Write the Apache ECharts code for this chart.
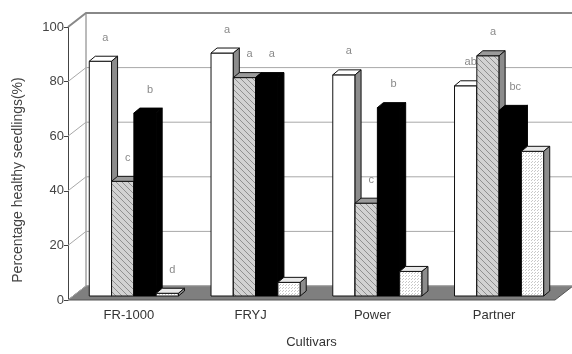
<!DOCTYPE html>
<html>
<head>
<meta charset="utf-8">
<script src="https://cdn.jsdelivr.net/npm/echarts@6/dist/echarts.min.js"></script>
<style>html,body{margin:0;padding:0;background:#fff}#c{width:572px;height:354px}</style>
</head>
<body>
<div id="c"></div>
<script>
const categories = ['FR-1000', 'FRYJ', 'Power', 'Partner'];
const whiteVals = [86, 89, 81, 77];
const grayVals = [42, 80, 34, 88];
const blackVals = [67, 80, 69, 68];
const dotVals = [1, 5, 9, 53];
const whiteLetters = ['a', 'a', 'a', 'ab'];
const grayLetters = ['c', 'a', 'c', 'a'];
const blackLetters = ['b', 'a', 'b', 'bc'];
const dotLetters = ['d', '', '', ''];
const yTicks = [0, 20, 40, 60, 80, 100];

const FONT = '"Liberation Sans", Arial, sans-serif';
const WX = 18, WY = -14;   // wall depth
const PX = 5, PY = -4;     // bar plane offset
const DX = 6, DY = -5;     // bar depth
const BW = 22.3, GW = BW * 4;

function hatchPattern() {
  const c = document.createElement('canvas'); c.width = 6; c.height = 6;
  const g = c.getContext('2d');
  g.fillStyle = '#d2d2d2'; g.fillRect(0, 0, 6, 6);
  g.strokeStyle = '#909090'; g.lineWidth = 1;
  g.beginPath();
  for (let s = -6; s <= 6; s += 6) { g.moveTo(s, 0); g.lineTo(s + 6, 6); }
  g.stroke();
  return { image: c, repeat: 'repeat' };
}
function dotPattern() {
  const c = document.createElement('canvas'); c.width = 3; c.height = 3;
  const g = c.getContext('2d');
  g.fillStyle = '#ffffff'; g.fillRect(0, 0, 3, 3);
  g.fillStyle = '#c8c8c8'; g.fillRect(0, 0, 1, 1); g.fillRect(1, 2, 1, 1);
  return { image: c, repeat: 'repeat' };
}

function makeBar(k, front, top, side, stroke, letters) {
  return function (params, api) {
    const cat = api.value(0), v = api.value(1);
    const p = api.coord([cat, v]);
    const p0 = api.coord([cat, 0]);
    const x = p[0] - GW / 2 + k * BW + PX;
    const yt = p[1] + PY, yb = p0[1] + PY;
    const children = [
      { type: 'rect', shape: { x: x, y: yt, width: BW, height: Math.max(yb - yt, 0.5) },
        style: { fill: front, stroke: stroke, lineWidth: 1 } },
      { type: 'polygon', shape: { points: [[x, yt], [x + DX, yt + DY], [x + BW + DX, yt + DY], [x + BW, yt]] },
        style: { fill: top, stroke: stroke, lineWidth: 1 } },
      { type: 'polygon', shape: { points: [[x + BW, yt], [x + BW + DX, yt + DY], [x + BW + DX, yb + DY], [x + BW, yb]] },
        style: { fill: side, stroke: stroke, lineWidth: 1 } }
    ];
    const t = letters[cat];
    if (t) {
      children.push({ type: 'text', style: { text: t, x: x + BW / 2 + 5, y: yt + DY - 13,
        textAlign: 'center', textVerticalAlign: 'bottom', fill: '#8a8a8a', font: '11px ' + FONT } });
    }
    return { type: 'group', children: children };
  };
}

function wallsRender(params, api) {
  const v = api.value(0);
  const cs = params.coordSys;
  const x0 = cs.x, W = cs.width;
  const y = api.coord([0, v])[1];
  const children = [];
  if (v === 0) {
    const yTop = api.coord([0, 100])[1];
    children.push({ type: 'polygon', shape: { points: [[x0, y], [x0 + WX, y + WY], [x0 + W + WX, y + WY], [x0 + W, y]] },
      style: { fill: '#7f7f7f', stroke: '#555', lineWidth: 1 } });
    children.push({ type: 'line', shape: { x1: x0 + WX, y1: y + WY, x2: x0 + WX, y2: yTop + WY },
      style: { stroke: '#777', lineWidth: 1 } });
  }
  children.push({ type: 'polyline', shape: { points: [[x0, y], [x0 + WX, y + WY], [620, y + WY]] },
    style: { stroke: v === 100 ? '#888' : '#a8a8a8', lineWidth: v === 100 ? 2 : 1, fill: null } });
  return { type: 'group', children: children };
}

const chart = echarts.init(document.getElementById('c'), null, { renderer: 'canvas' });
const hatch = hatchPattern(), dots = dotPattern();
const toData = arr => arr.map((v, i) => [i, v]);

chart.setOption({
  animation: false,
  backgroundColor: '#fff',
  grid: { left: 68, right: 17, top: 27, bottom: 53 },
  xAxis: {
    type: 'category', data: categories,
    axisLine: { show: false }, axisTick: { show: false }, splitLine: { show: false },
    axisLabel: { fontSize: 13, color: '#333', fontFamily: FONT, margin: 9 },
    name: 'Cultivars', nameLocation: 'middle', nameGap: 36,
    nameTextStyle: { fontSize: 13, color: '#333', fontFamily: FONT }
  },
  yAxis: {
    type: 'value', min: 0, max: 100, interval: 20,
    axisLine: { show: true, lineStyle: { color: '#444', width: 1 } },
    axisTick: { show: true, length: 4, lineStyle: { color: '#444' } },
    splitLine: { show: false },
    axisLabel: { fontSize: 13, color: '#444', fontFamily: FONT, margin: 4 }
  },
  graphic: [{
    type: 'text', x: 18, y: 180, rotation: Math.PI / 2,
    style: { text: 'Percentage healthy seedlings(%)', textAlign: 'center', textVerticalAlign: 'middle',
      fill: '#444', font: '14px ' + FONT }
  }],
  series: [
    { type: 'custom', name: 'walls', z: 1, data: yTicks.map(v => [v]), renderItem: wallsRender, silent: true },
    { type: 'custom', name: 'white', z: 2, data: toData(whiteVals), renderItem: makeBar(0, '#ffffff', '#ffffff', '#8c8c8c', '#111', whiteLetters) },
    { type: 'custom', name: 'gray', z: 2, data: toData(grayVals), renderItem: makeBar(1, hatch, '#9a9a9a', '#8c8c8c', '#111', grayLetters) },
    { type: 'custom', name: 'black', z: 2, data: toData(blackVals), renderItem: makeBar(2, '#000000', '#000000', '#000000', '#000', blackLetters) },
    { type: 'custom', name: 'dotted', z: 2, data: toData(dotVals), renderItem: makeBar(3, dots, '#e8e8e8', '#8c8c8c', '#111', dotLetters) }
  ]
});
</script>
</body>
</html>
